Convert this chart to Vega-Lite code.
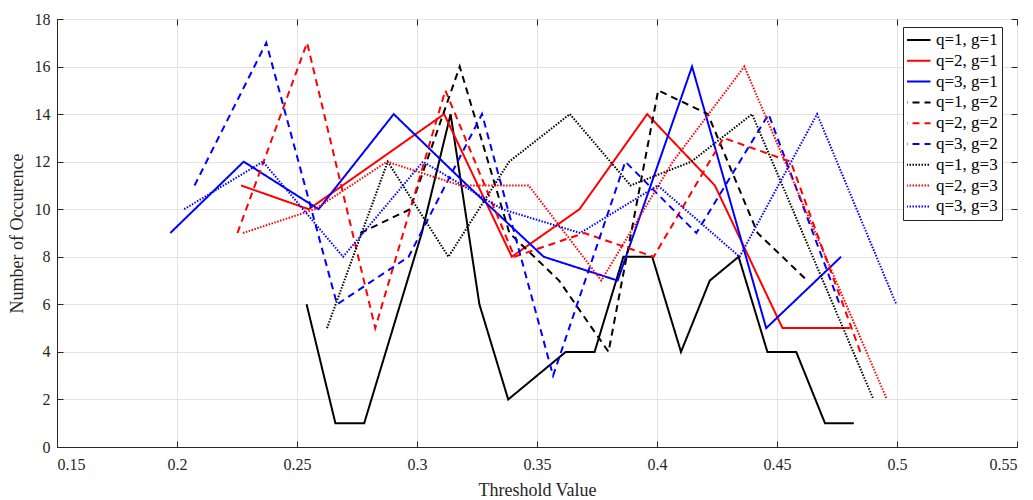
{
  "$schema": "https://vega.github.io/schema/vega-lite/v6.json",
  "width": 960,
  "height": 428,
  "autosize": {"type": "none"},
  "padding": {"left": 57, "top": 19, "right": 16, "bottom": 53},
  "background": "white",
  "config": {
    "font": "Liberation Serif",
    "view": {"stroke": "#262626", "strokeWidth": 1},
    "axis": {
      "domainColor": "#262626",
      "tickColor": "#262626",
      "labelColor": "#262626",
      "titleColor": "#262626",
      "labelFont": "Liberation Serif",
      "titleFont": "Liberation Serif",
      "labelFontSize": 16,
      "titleFontSize": 18,
      "titleFontWeight": "normal",
      "gridColor": "#e3e3e3",
      "gridWidth": 1
    },
    "legend": {
      "orient": "none",
      "legendX": 846,
      "legendY": 8,
      "strokeColor": "#262626",
      "fillColor": "white",
      "padding": 4,
      "labelFont": "Liberation Serif",
      "labelFontSize": 17,
      "labelColor": "#000000",
      "symbolType": "M-3,0H3",
      "symbolSize": 100,
      "symbolStrokeWidth": 2,
      "rowPadding": 2.8,
      "clipHeight": 18,
      "labelOffset": 12
    }
  },
  "data": {
    "values": [
      {"series": "q=1, g=1", "x": 0.254, "y": 6},
      {"series": "q=1, g=1", "x": 0.266, "y": 1},
      {"series": "q=1, g=1", "x": 0.278, "y": 1},
      {"series": "q=1, g=1", "x": 0.290, "y": 5},
      {"series": "q=1, g=1", "x": 0.302, "y": 9},
      {"series": "q=1, g=1", "x": 0.314, "y": 14},
      {"series": "q=1, g=1", "x": 0.326, "y": 6},
      {"series": "q=1, g=1", "x": 0.338, "y": 2},
      {"series": "q=1, g=1", "x": 0.350, "y": 3},
      {"series": "q=1, g=1", "x": 0.362, "y": 4},
      {"series": "q=1, g=1", "x": 0.374, "y": 4},
      {"series": "q=1, g=1", "x": 0.386, "y": 8},
      {"series": "q=1, g=1", "x": 0.398, "y": 8},
      {"series": "q=1, g=1", "x": 0.410, "y": 4},
      {"series": "q=1, g=1", "x": 0.422, "y": 7},
      {"series": "q=1, g=1", "x": 0.434, "y": 8},
      {"series": "q=1, g=1", "x": 0.446, "y": 4},
      {"series": "q=1, g=1", "x": 0.458, "y": 4},
      {"series": "q=1, g=1", "x": 0.470, "y": 1},
      {"series": "q=1, g=1", "x": 0.482, "y": 1},

      {"series": "q=2, g=1", "x": 0.2267, "y": 11},
      {"series": "q=2, g=1", "x": 0.2549, "y": 10},
      {"series": "q=2, g=1", "x": 0.3113, "y": 14},
      {"series": "q=2, g=1", "x": 0.3395, "y": 8},
      {"series": "q=2, g=1", "x": 0.3677, "y": 10},
      {"series": "q=2, g=1", "x": 0.3959, "y": 14},
      {"series": "q=2, g=1", "x": 0.4241, "y": 11},
      {"series": "q=2, g=1", "x": 0.4523, "y": 5},
      {"series": "q=2, g=1", "x": 0.4805, "y": 5},

      {"series": "q=3, g=1", "x": 0.1972, "y": 9},
      {"series": "q=3, g=1", "x": 0.2278, "y": 12},
      {"series": "q=3, g=1", "x": 0.2590, "y": 10},
      {"series": "q=3, g=1", "x": 0.2903, "y": 14},
      {"series": "q=3, g=1", "x": 0.3210, "y": 11},
      {"series": "q=3, g=1", "x": 0.3528, "y": 8},
      {"series": "q=3, g=1", "x": 0.3836, "y": 7},
      {"series": "q=3, g=1", "x": 0.4146, "y": 16},
      {"series": "q=3, g=1", "x": 0.4455, "y": 5},
      {"series": "q=3, g=1", "x": 0.4767, "y": 8},

      {"series": "q=1, g=2", "x": 0.2764, "y": 9},
      {"series": "q=1, g=2", "x": 0.2971, "y": 10},
      {"series": "q=1, g=2", "x": 0.3178, "y": 16},
      {"series": "q=1, g=2", "x": 0.3385, "y": 9},
      {"series": "q=1, g=2", "x": 0.3592, "y": 7},
      {"series": "q=1, g=2", "x": 0.3798, "y": 4},
      {"series": "q=1, g=2", "x": 0.4005, "y": 15},
      {"series": "q=1, g=2", "x": 0.4212, "y": 14},
      {"series": "q=1, g=2", "x": 0.4419, "y": 9},
      {"series": "q=1, g=2", "x": 0.4626, "y": 7},

      {"series": "q=2, g=2", "x": 0.2252, "y": 9},
      {"series": "q=2, g=2", "x": 0.2542, "y": 17},
      {"series": "q=2, g=2", "x": 0.2826, "y": 5},
      {"series": "q=2, g=2", "x": 0.3118, "y": 15},
      {"series": "q=2, g=2", "x": 0.3406, "y": 8},
      {"series": "q=2, g=2", "x": 0.3697, "y": 9},
      {"series": "q=2, g=2", "x": 0.3986, "y": 8},
      {"series": "q=2, g=2", "x": 0.4277, "y": 13},
      {"series": "q=2, g=2", "x": 0.4557, "y": 12},
      {"series": "q=2, g=2", "x": 0.4847, "y": 4},

      {"series": "q=3, g=2", "x": 0.2073, "y": 11},
      {"series": "q=3, g=2", "x": 0.2372, "y": 17},
      {"series": "q=3, g=2", "x": 0.2667, "y": 6},
      {"series": "q=3, g=2", "x": 0.2965, "y": 8},
      {"series": "q=3, g=2", "x": 0.3271, "y": 14},
      {"series": "q=3, g=2", "x": 0.3567, "y": 3},
      {"series": "q=3, g=2", "x": 0.3868, "y": 12},
      {"series": "q=3, g=2", "x": 0.4164, "y": 9},
      {"series": "q=3, g=2", "x": 0.4465, "y": 14},
      {"series": "q=3, g=2", "x": 0.4761, "y": 6},

      {"series": "q=1, g=3", "x": 0.2625, "y": 5},
      {"series": "q=1, g=3", "x": 0.2878, "y": 12},
      {"series": "q=1, g=3", "x": 0.3131, "y": 8},
      {"series": "q=1, g=3", "x": 0.3384, "y": 12},
      {"series": "q=1, g=3", "x": 0.3637, "y": 14},
      {"series": "q=1, g=3", "x": 0.3890, "y": 11},
      {"series": "q=1, g=3", "x": 0.4143, "y": 12},
      {"series": "q=1, g=3", "x": 0.4396, "y": 14},
      {"series": "q=1, g=3", "x": 0.4649, "y": 8},
      {"series": "q=1, g=3", "x": 0.4902, "y": 2},

      {"series": "q=2, g=3", "x": 0.2275, "y": 9},
      {"series": "q=2, g=3", "x": 0.2575, "y": 10},
      {"series": "q=2, g=3", "x": 0.2875, "y": 12},
      {"series": "q=2, g=3", "x": 0.3180, "y": 11},
      {"series": "q=2, g=3", "x": 0.3465, "y": 11},
      {"series": "q=2, g=3", "x": 0.3768, "y": 7},
      {"series": "q=2, g=3", "x": 0.4066, "y": 12},
      {"series": "q=2, g=3", "x": 0.4364, "y": 16},
      {"series": "q=2, g=3", "x": 0.4660, "y": 9},
      {"series": "q=2, g=3", "x": 0.4958, "y": 2},

      {"series": "q=3, g=3", "x": 0.2030, "y": 10},
      {"series": "q=3, g=3", "x": 0.2358, "y": 12},
      {"series": "q=3, g=3", "x": 0.2692, "y": 8},
      {"series": "q=3, g=3", "x": 0.3025, "y": 12},
      {"series": "q=3, g=3", "x": 0.3355, "y": 10},
      {"series": "q=3, g=3", "x": 0.3680, "y": 9},
      {"series": "q=3, g=3", "x": 0.4003, "y": 11},
      {"series": "q=3, g=3", "x": 0.4344, "y": 8},
      {"series": "q=3, g=3", "x": 0.4667, "y": 14},
      {"series": "q=3, g=3", "x": 0.4997, "y": 6}
    ]
  },
  "layer": [
    {
      "mark": {"type": "line", "strokeCap": "butt", "strokeJoin": "miter", "clip": true},
      "encoding": {
        "x": {
          "field": "x", "type": "quantitative",
          "scale": {"domain": [0.15, 0.55], "nice": false, "zero": false},
          "axis": {
            "orient": "bottom",
            "values": [0.15, 0.2, 0.25, 0.3, 0.35, 0.4, 0.45, 0.5, 0.55],
            "format": ".2~f",
            "title": "Threshold Value",
            "grid": true,
            "ticks": false,
            "labelPadding": 9,
            "titlePadding": 9
          }
        },
        "y": {
          "field": "y", "type": "quantitative",
          "scale": {"domain": [0, 18], "nice": false, "zero": true},
          "axis": {
            "orient": "left",
            "values": [0, 2, 4, 6, 8, 10, 12, 14, 16, 18],
            "title": "Number of Occurence",
            "grid": true,
            "ticks": false,
            "labelPadding": 7,
            "titlePadding": 8
          }
        },
        "color": {
          "field": "series", "type": "nominal",
          "scale": {
            "domain": ["q=1, g=1", "q=2, g=1", "q=3, g=1", "q=1, g=2", "q=2, g=2", "q=3, g=2", "q=1, g=3", "q=2, g=3", "q=3, g=3"],
            "range": ["#000000", "#ff0000", "#0000ff", "#000000", "#ff0000", "#0000ff", "#000000", "#ff0000", "#0000ff"]
          },
          "legend": {"title": null}
        },
        "strokeDash": {
          "field": "series", "type": "nominal",
          "scale": {
            "domain": ["q=1, g=1", "q=2, g=1", "q=3, g=1", "q=1, g=2", "q=2, g=2", "q=3, g=2", "q=1, g=3", "q=2, g=3", "q=3, g=3"],
            "range": [[1, 0], [1, 0], [1, 0], [7, 5], [7, 5], [7, 5], [1.5, 1.5], [1.5, 1.5], [1.5, 1.5]]
          },
          "legend": {"title": null}
        },
        "strokeWidth": {
          "field": "series", "type": "nominal",
          "scale": {
            "domain": ["q=1, g=1", "q=2, g=1", "q=3, g=1", "q=1, g=2", "q=2, g=2", "q=3, g=2", "q=1, g=3", "q=2, g=3", "q=3, g=3"],
            "range": [2, 2, 2, 2, 2, 2, 1.7, 1.7, 1.7]
          },
          "legend": null
        }
      }
    },
    {
      "mark": {"type": "line", "opacity": 0},
      "encoding": {
        "x": {
          "field": "x", "type": "quantitative",
          "axis": {"orient": "top", "offset": -6, "tickSize": 6, "domain": false, "values": [0.15, 0.2, 0.25, 0.3, 0.35, 0.4, 0.45, 0.5, 0.55], "labels": false, "title": null, "grid": false}
        },
        "y": {
          "field": "y", "type": "quantitative",
          "axis": {"orient": "right", "offset": -6, "tickSize": 6, "domain": false, "values": [0, 2, 4, 6, 8, 10, 12, 14, 16, 18], "labels": false, "title": null, "grid": false}
        }
      }
    },
    {
      "mark": {"type": "line", "opacity": 0},
      "encoding": {
        "x": {
          "field": "x", "type": "quantitative",
          "axis": {"orient": "bottom", "offset": -6, "tickSize": 6, "domain": false, "values": [0.15, 0.2, 0.25, 0.3, 0.35, 0.4, 0.45, 0.5, 0.55], "labels": false, "title": null, "grid": false}
        },
        "y": {
          "field": "y", "type": "quantitative",
          "axis": {"orient": "left", "offset": -6, "tickSize": 6, "domain": false, "values": [0, 2, 4, 6, 8, 10, 12, 14, 16, 18], "labels": false, "title": null, "grid": false}
        }
      }
    }
  ],
  "resolve": {"axis": {"x": "independent", "y": "independent"}}
}
